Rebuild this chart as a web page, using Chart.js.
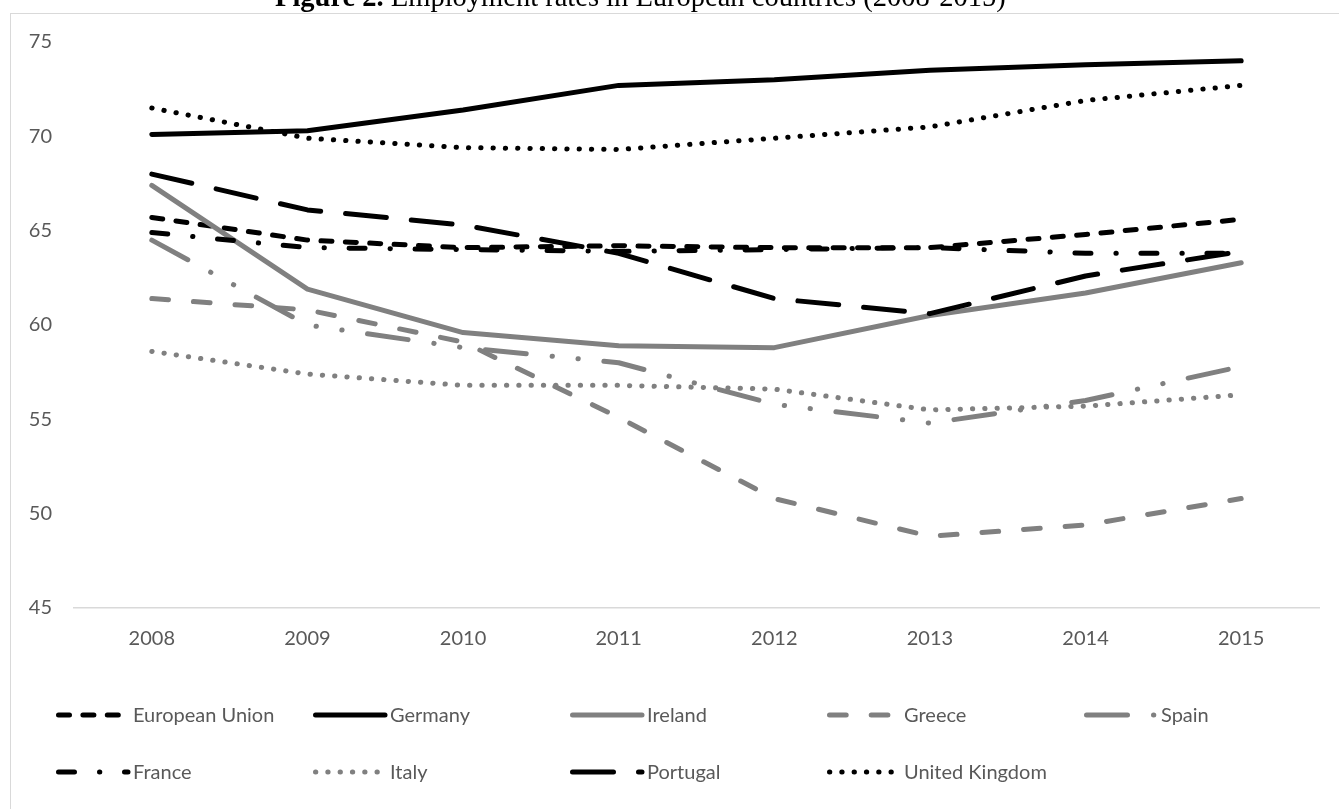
<!DOCTYPE html>
<html>
<head>
<meta charset="utf-8">
<script src="https://cdn.jsdelivr.net/npm/chart.js@4.4.1/dist/chart.umd.min.js"></script>
<style>
html,body{margin:0;padding:0;width:1339px;height:809px;overflow:hidden;background:#fff;}
#frame{position:absolute;left:10px;top:13px;width:1400px;height:900px;border:1px solid #d9d9d9;box-sizing:border-box;}
#title{position:absolute;top:-17.4px;left:275px;white-space:nowrap;font-family:"Liberation Serif","Times New Roman",serif;font-size:28.5px;line-height:28.5px;color:#000;z-index:3;}
#c{position:absolute;left:0;top:0;z-index:2;}
</style>
</head>
<body>
<div id="frame"></div>
<div id="title"><b>Figure 2.</b> Employment rates in European countries (2008-2015)</div>
<canvas id="c" width="1339" height="809"></canvas>
<script>
const years = ['2008','2009','2010','2011','2012','2013','2014','2015'];
const yTicks = [45, 50, 55, 60, 65, 70, 75];
const seriesNames = ['European Union','Germany','Ireland','Greece','Spain','France','Italy','Portugal','United Kingdom'];
const euValues       = [65.7, 64.5, 64.1, 64.2, 64.1, 64.1, 64.8, 65.6];
const germanyValues  = [70.1, 70.3, 71.4, 72.7, 73.0, 73.5, 73.8, 74.0];
const irelandValues  = [67.4, 61.9, 59.6, 58.9, 58.8, 60.5, 61.7, 63.3];
const greeceValues   = [61.4, 60.8, 59.1, 55.1, 50.8, 48.8, 49.4, 50.8];
const spainValues    = [64.5, 60.0, 58.8, 58.0, 55.8, 54.8, 56.0, 57.8];
const franceValues   = [64.9, 64.1, 64.0, 63.9, 64.0, 64.1, 63.8, 63.8];
const italyValues    = [58.6, 57.4, 56.8, 56.8, 56.6, 55.5, 55.7, 56.3];
const portugalValues = [68.0, 66.1, 65.3, 63.8, 61.4, 60.6, 62.6, 63.9];
const ukValues       = [71.5, 69.9, 69.4, 69.3, 69.9, 70.5, 71.9, 72.7];

const allValues = [euValues, germanyValues, irelandValues, greeceValues, spainValues, franceValues, italyValues, portugalValues, ukValues];

const BLACK = '#000000', GREY = '#808080';
const styles = [
  {color: BLACK, dash: [11, 13.4]},
  {color: BLACK, dash: []},
  {color: GREY,  dash: []},
  {color: GREY,  dash: [16.7, 25]},
  {color: GREY,  dash: [41, 26, 0.3, 25.7, 0.3, 25.7]},
  {color: BLACK, dash: [16, 25, 0.3, 24.7]},
  {color: GREY,  dash: [0.3, 12]},
  {color: BLACK, dash: [41, 25]},
  {color: BLACK, dash: [0.3, 12]}
];

const datasets = seriesNames.map((name, i) => ({
  label: name,
  data: allValues[i],
  borderColor: styles[i].color,
  backgroundColor: styles[i].color,
  borderWidth: 5,
  borderDash: styles[i].dash,
  borderCapStyle: 'round',
  borderJoinStyle: 'round',
  pointRadius: 0,
  pointHoverRadius: 0,
  tension: 0,
  fill: false,
  order: -i
}));

const FONT = 'Lato, "Open Sans", sans-serif';
const TEXT = '#595959';

const excelLegend = {
  id: 'excelLegend',
  afterDraw(chart) {
    const ctx = chart.ctx;
    chart.data.datasets.forEach((ds, i) => {
      const col = i % 5, row = Math.floor(i / 5);
      const x0 = 56 + col * 257;
      const y = 715 + row * 57;
      ctx.save();
      ctx.strokeStyle = ds.borderColor;
      ctx.lineWidth = ds.borderWidth;
      ctx.lineCap = 'round';
      ctx.setLineDash(ds.borderDash || []);
      ctx.beginPath();
      ctx.moveTo(x0 + 2.5, y);
      ctx.lineTo(x0 + 72, y);
      ctx.stroke();
      ctx.setLineDash([]);
      ctx.fillStyle = TEXT;
      ctx.font = '20px ' + FONT;
      ctx.textBaseline = 'middle';
      ctx.textAlign = 'left';
      ctx.fillText(ds.label, x0 + 77, y + 1);
      ctx.restore();
    });
  }
};

new Chart(document.getElementById('c'), {
  type: 'line',
  data: {labels: years, datasets},
  options: {
    responsive: false,
    animation: false,
    devicePixelRatio: 1,
    layout: {padding: {left: 0, top: 42, right: 20, bottom: 141}},
    plugins: {legend: {display: false}, tooltip: {enabled: false}, title: {display: false}},
    scales: {
      x: {
        type: 'category',
        offset: true,
        grid: {display: false, drawTicks: false},
        border: {display: true, color: '#d9d9d9', width: 1.5},
        ticks: {color: TEXT, font: {family: FONT, size: 20}, padding: 19, maxRotation: 0, autoSkip: false},
        afterFit: s => { s.height = 60; }
      },
      y: {
        min: yTicks[0],
        max: yTicks[yTicks.length - 1],
        grid: {display: false, drawTicks: false},
        border: {display: false},
        ticks: {stepSize: 5, color: TEXT, font: {family: FONT, size: 20}, padding: 22},
        afterBuildTicks: s => { s.ticks = yTicks.map(v => ({value: v})); },
        afterFit: s => { s.width = 74; }
      }
    }
  },
  plugins: [excelLegend]
});
</script>
</body>
</html>
